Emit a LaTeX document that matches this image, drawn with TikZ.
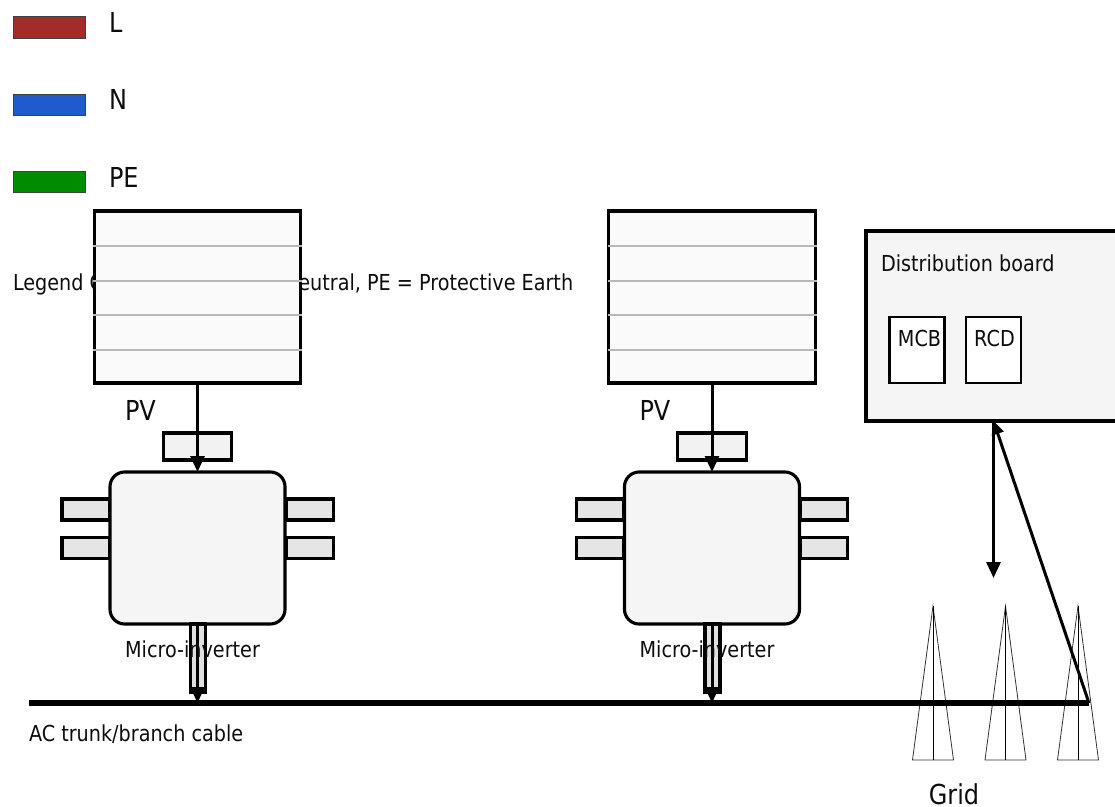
\documentclass[tikz,border=0pt]{standalone}
\usepackage{fontspec}
\usepackage{graphicx}
\setmainfont{DejaVu Sans}
\usetikzlibrary{arrows.meta}
\newcommand\stxt[1]{\scalebox{0.873}[1]{\fontsize{16.5}{18}\selectfont #1}}
\newcommand\ltxt[1]{\scalebox{0.873}[1]{\fontsize{20.6}{22}\selectfont #1}}
\tikzset{
  px/.style={x=0.75pt,y=-0.75pt},
  swatch/.style={draw=black!75,line width=0.75pt,minimum width=54pt,minimum height=16pt,inner sep=0,outer sep=0},
  boxed/.style={draw=black,line width=2.35pt,inner sep=0,outer sep=0},
  panel/.style={boxed,fill=black!2,minimum width=155pt,minimum height=129pt},
  jbox/.style={boxed,fill=black!5,minimum width=51.5pt,minimum height=20.25pt},
  inverter/.style={boxed,fill=black!4,rounded corners=11pt,minimum width=131.25pt,minimum height=114pt},
  tab/.style={boxed,fill=black!10,minimum width=35.5pt,minimum height=15.75pt},
  cablebox/.style={boxed,line width=2.6pt,fill=black!12,minimum width=11pt,minimum height=51pt},
  device/.style={draw=black,line width=1.9pt,fill=white,inner sep=0,outer sep=0,minimum width=41.25pt,minimum height=49.5pt},
  lbl/.style={inner sep=0,outer sep=0,text=black!95},
  cellline/.style={draw=black!28,line width=1.5pt},
  wire/.style={draw=black,line width=2.25pt,-{Triangle[width=10.5pt,length=12pt]}},
  trunk/.style={draw=black,line width=3.9pt},
  tower/.style={draw=black!80,line width=0.6pt},
  mast/.style={draw=black,line width=0.75pt},
}
\begin{document}
\begin{tikzpicture}[px]
\useasboundingbox (0,0) rectangle (1115,807);
\clip (0,0) rectangle (1115,807);
% legend
\node[swatch,fill={rgb,255:red,165;green,42;blue,42}] (swl) at (49,27.5) {};
\node[swatch,fill={rgb,255:red,31;green,91;blue,204}] (swn) at (49,105) {};
\node[swatch,fill={rgb,255:red,0;green,140;blue,0}] (swp) at (49,182) {};
\node[lbl,anchor=west] (tl) at (109,22.5) {\ltxt{L}};
\node[lbl,anchor=west] (tn) at (109,99.5) {\ltxt{N}};
\node[lbl,anchor=west] (tp) at (109,177) {\ltxt{PE}};
\node[lbl,anchor=west] (legend) at (13,284) {\stxt{Legend Color:\hspace{-3.4pt} L = Line, N = Neutral, PE = Protective Earth}};
% first and second units
\foreach \n/\dx in {a/0,b/514.5}{
  \node[panel] (panel\n) at (197.5+\dx,297) {};
  \foreach \yy in {246,281,315,350}
    \draw[cellline] (93+\dx,\yy) -- (302+\dx,\yy);
  \node[lbl,anchor=west] (pv\n) at (125+\dx,410) {\ltxt{PV}};
  \node[jbox] (jb\n) at (197.5+\dx,446.5) {};
  \node[inverter] (inv\n) at (197.5+\dx,548) {};
  \node[tab] (tl\n) at (85.7+\dx,509.5) {};
  \node[tab] (bl\n) at (85.7+\dx,548) {};
  \node[tab] (tr\n) at (309.7+\dx,509.5) {};
  \node[tab] (br\n) at (309.7+\dx,548) {};
  \node[cablebox] (cab\n) at (198+\dx,658) {};
  \coordinate (tap\n) at (197.5+\dx,703);
  \draw[wire] (panel\n.south) -- (inv\n.north);
  \draw[wire] (inv\n.south) -- (tap\n);
  \node[lbl] (mi\n) at (192.5+\dx,649) {\stxt{Micro-inverter}};
}
% trunk
\coordinate (ts) at (29,703);
\coordinate (te) at (1089,703);
% towers
\foreach \n/\cx in {p/933,q/1005.5,r/1078}{
  \coordinate (apex\n) at (\cx,606);
  \coordinate (foot\n) at (\cx,760);
  \draw[tower] (apex\n) -- (\cx-20.5,760) -- (\cx+20.5,760) -- cycle;
  \draw[mast] (apex\n) -- (foot\n);
}
\draw[trunk] (ts) -- (te);
\node[lbl,anchor=west] (ac) at (29,734) {\stxt{AC trunk/branch cable}};
\node[lbl] (grid) at (954,794.5) {\ltxt{Grid}};
% distribution board
\node[boxed,fill=black!4,anchor=north west,minimum width=210pt,minimum height=142.5pt] (db) at (866,231) {};
\node[lbl,anchor=west] (dbt) at (881,263) {\stxt{Distribution board}};
\node[device] (mcb) at (917,350) {};
\node[device] (rcd) at (993.5,350) {};
\node[lbl] (mcbt) at (919.5,338) {\stxt{MCB}};
\node[lbl] (rcdt) at (994.5,338) {\stxt{RCD}};
\coordinate (dbp) at (993.5,421);
\coordinate (gridp) at (993.5,578);
\draw[wire] (dbp) -- (gridp);
\draw[wire,-{Triangle[width=9pt,length=10pt]}] (te) -- (dbp);
\end{tikzpicture}
\end{document}
